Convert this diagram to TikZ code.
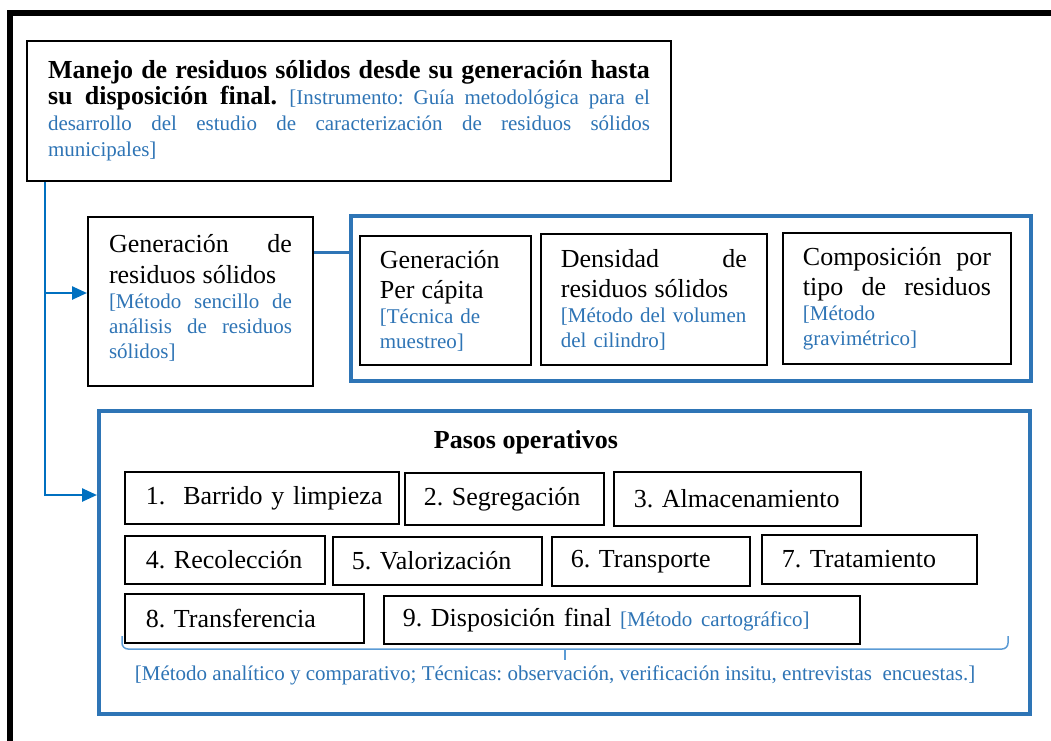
\documentclass[tikz,border=0pt]{standalone}
\usepackage{fontspec}
\setmainfont{Liberation Serif}
\usetikzlibrary{arrows.meta}
\definecolor{txtblue}{RGB}{46,116,181}
\definecolor{boxblue}{RGB}{46,117,182}
\definecolor{lineblue}{RGB}{0,112,192}
\definecolor{braceblue}{RGB}{91,155,213}
\newcommand{\jl}[1]{\makebox[\hsize][s]{\spaceskip=0pt\relax\xspaceskip=0pt\relax #1}}
\newcommand{\fs}[2]{\fontsize{#1}{#2}\selectfont\lineskiplimit=-100pt\relax}
\setlength{\parindent}{0pt}
\frenchspacing
\tikzset{
  blk/.style={draw=black, line width=2pt, rectangle, anchor=north west, align=left, inner ysep=0pt},
  stepbox/.style={draw=black, line width=1.6pt, anchor=north west, align=left, inner ysep=0pt, font=\fs{26}{30}},
  bluebox/.style={draw=boxblue, anchor=north west, inner sep=0pt},
  conn/.style={draw=lineblue, line width=2.5pt},
  arr/.style={conn, -{Triangle[length=15pt,width=13pt]}},
  bracestyle/.style={draw=braceblue, line width=1.5pt}
}
\begin{document}
\begin{tikzpicture}[x=1pt,y=-1pt]
\useasboundingbox (0,0) rectangle (1051,740);
\begin{scope}
\clip (0,0) rectangle (1051,740);
\draw[line width=6pt] (1060,13) -- (10,13) -- (10,750);
\end{scope}

% top box
\node[blk, minimum width=644pt, minimum height=140pt, text width=602pt, inner xsep=21pt, font=\fs{21}{26}\frenchspacing] (top) at (26,40)
{\jl{\fs{26}{26}\bfseries Manejo de residuos sólidos desde su generación hasta}\\
\jl{\fs{26}{26}\bfseries su disposición final. \mdseries\fs{21}{26}\color{txtblue}[Instrumento: Guía metodológica para el}\\
\color{txtblue}\jl{desarrollo del estudio de caracterización de residuos sólidos}\\
municipales]};

% generation box
\node[blk, minimum width=225pt, minimum height=169pt, text width=183pt, inner xsep=21pt, font=\fs{21}{25}\frenchspacing] (gen) at (87,216)
{\fs{26}{25}\jl{Generación de}\\[6pt]
residuos sólidos\\
\fs{21}{25}\color{txtblue}\jl{[Método sencillo de}\\
\jl{análisis de residuos}\\
sólidos]\par\vspace*{8pt}};

% container
\node[bluebox, line width=3.5pt, minimum width=680pt, minimum height=165pt] (cont) at (349,214) {};

\node[blk, line width=1.8pt, minimum width=171pt, minimum height=129pt, text width=131pt, inner xsep=20pt, font=\fs{21}{25}\frenchspacing] (pA) at (359,235)
{\fs{26}{25}Generación\\[5pt] Per cápita\\ \fs{21}{25}\color{txtblue}[Técnica de\\ muestreo]};
\node[blk, line width=1.8pt, minimum width=226pt, minimum height=131pt, text width=186pt, inner xsep=20pt, font=\fs{21}{25}\frenchspacing] (pB) at (540,233)
{\fs{26}{25}\jl{Densidad de}\\[5pt] residuos sólidos\\ \fs{21}{25}\color{txtblue}[Método del volumen\\ del cilindro]};
\node[blk, line width=1.8pt, minimum width=228pt, minimum height=131pt, text width=188pt, inner xsep=20pt, font=\fs{21}{25}\frenchspacing] (pC) at (782,232)
{\fs{26}{25}\jl{Composición por}\\[5pt] \jl{tipo de residuos}\\ \fs{21}{25}\color{txtblue}[Método\\ gravimétrico]};

% pasos box
\node[bluebox, line width=4pt, minimum width=931pt, minimum height=303pt] (pasos) at (97,409) {};
\node[font=\fs{26}{30}\bfseries, anchor=base] (ptitle) at (526,448) {Pasos operativos};

\node[stepbox, minimum width=274pt, minimum height=52pt, text width=232pt, inner xsep=21pt] (s1) at (124,471) {\mbox{1.\hspace{18pt}Barrido y limpieza}};
\node[stepbox, minimum width=199pt, minimum height=52pt, text width=161pt, inner xsep=19pt] (s2) at (404,472) {\mbox{2. Segregación}};
\node[stepbox, minimum width=247pt, minimum height=54pt, text width=207pt, inner xsep=20pt] (s3) at (613,471) {\mbox{3. Almacenamiento}};
\node[stepbox, minimum width=200pt, minimum height=48pt, text width=158pt, inner xsep=21pt] (s4) at (124,535) {\mbox{4. Recolección}};
\node[stepbox, minimum width=209pt, minimum height=48pt, text width=171pt, inner xsep=19pt] (s5) at (332,536) {\mbox{5. Valorización}};
\node[stepbox, minimum width=198pt, minimum height=49pt, text width=160pt, inner xsep=19pt] (s6) at (551,536) {\mbox{6. Transporte}};
\node[stepbox, minimum width=215pt, minimum height=49pt, text width=175pt, inner xsep=20pt] (s7) at (761,534) {\mbox{7. Tratamiento}};
\node[stepbox, minimum width=239pt, minimum height=49pt, text width=197pt, inner xsep=21pt] (s8) at (124,593) {\mbox{8. Transferencia}};
\node[stepbox, minimum width=476pt, minimum height=48pt, text width=438pt, inner xsep=19pt] (s9) at (383,595) {\mbox{9. Disposición final {\fs{21}{25}\color{txtblue}[Método cartográfico]}}};

% brace
\draw[bracestyle, rounded corners=6pt] (122,636) -- (122,649) -- (1008,649) -- (1008,636);
\draw[bracestyle] (565,649) -- (565,660);

\node[font=\fs{21}{25}, text=txtblue, anchor=base] (btxt) at (555,680) {[Método analítico y comparativo; Técnicas: observación, verificación insitu, entrevistas\ \ encuestas.]};

% connectors
\coordinate (v0) at ([xshift=19pt]top.south west);
\coordinate (a1) at ([yshift=8.5pt]gen.west);
\coordinate (a2) at ([yshift=67.5pt]pasos.west);
\draw[arr] (v0) |- (a2);
\draw[arr] (v0 |- a1) -- (a1);
\draw[conn, draw=boxblue, line width=3pt] ([yshift=49.5pt]gen.east) -- ([yshift=49.5pt]gen.east -| cont.west);
\end{tikzpicture}
\end{document}
